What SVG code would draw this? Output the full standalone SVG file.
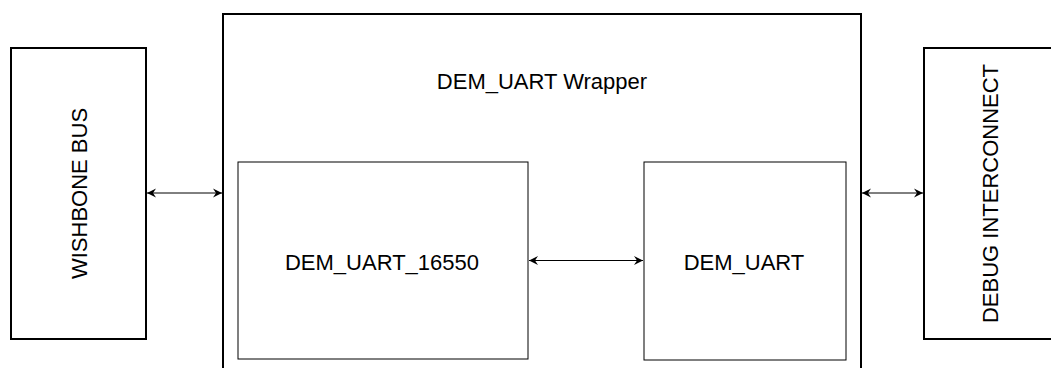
<svg xmlns="http://www.w3.org/2000/svg" width="1051" height="368" viewBox="0 0 1051 368">
<style>
.outer{fill:#fff;stroke:#000;stroke-width:2}
.inner{fill:#fff;stroke:#000;stroke-width:1}
.lbl{font-family:"Liberation Sans",Arial,Helvetica,sans-serif;font-size:22px;fill:#000}
.conn{stroke:#000;stroke-width:1;fill:none;marker-start:url(#ah);marker-end:url(#ah)}
</style>
<defs>
<marker id="ah" markerUnits="userSpaceOnUse" markerWidth="10" markerHeight="10" refX="9" refY="4.5" orient="auto-start-reverse" viewBox="0 0 10 9">
<path d="M0,0 L9,4.5 L0,9 L3,4.5 Z" fill="#000"/>
</marker>
</defs>
<rect width="1051" height="368" fill="#fff"/>
<g id="wishbone">
<rect class="outer" x="11" y="48" width="135" height="291"/>
<text class="lbl" text-anchor="middle" transform="translate(87,193.5) rotate(-90)">WISHBONE BUS</text>
</g>
<g id="wrapper">
<rect class="outer" x="223" y="14" width="638" height="370"/>
<text class="lbl" x="542" y="89" text-anchor="middle">DEM_UART Wrapper</text>
</g>
<g id="uart16550">
<rect class="inner" x="238" y="162" width="290" height="197"/>
<text class="lbl" x="382" y="270" text-anchor="middle">DEM_UART_16550</text>
</g>
<g id="demuart">
<rect class="inner" x="644" y="162" width="202" height="198"/>
<text class="lbl" x="744" y="270" text-anchor="middle">DEM_UART</text>
</g>
<g id="debug">
<rect class="outer" x="924" y="48" width="135" height="291"/>
<text class="lbl" text-anchor="middle" transform="translate(998,193.5) rotate(-90)">DEBUG INTERCONNECT</text>
</g>
<g id="connectors">
<line class="conn" x1="147" y1="193" x2="222" y2="193"/>
<line class="conn" x1="529" y1="260.5" x2="643" y2="260.5"/>
<line class="conn" x1="862" y1="193" x2="923" y2="193"/>
</g>
</svg>
